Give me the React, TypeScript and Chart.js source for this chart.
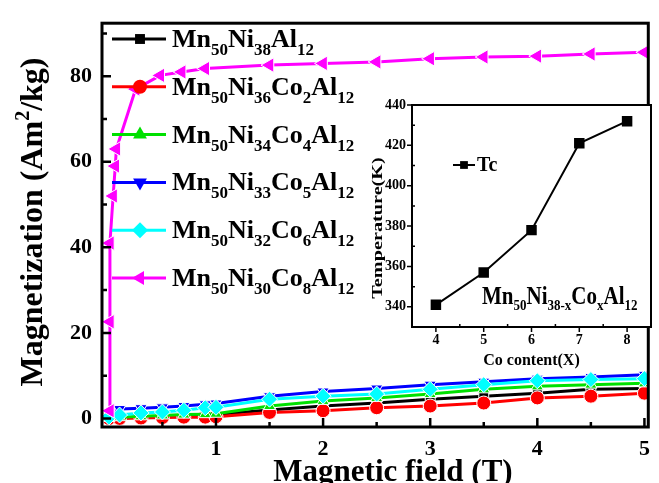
import React, { useEffect, useRef } from "react";
import { Chart, registerables } from "chart.js";
Chart.register(...registerables);

// ---------- data ----------
const FIELD = [0, 0.1, 0.3, 0.5, 0.7, 0.9, 1.0, 1.5, 2, 2.5, 3, 3.5, 4, 4.5, 5];
const M_NI38 = [0, 0.1, 0.3, 0.4, 0.6, 0.8, 0.9, 2.0, 2.9, 3.6, 4.5, 5.2, 5.9, 6.8, 7.0];
const M_CO2 = [0, 0.0, 0.1, 0.2, 0.3, 0.3, 0.4, 1.4, 1.8, 2.5, 2.9, 3.6, 4.8, 5.2, 5.9];
const M_CO4 = [0.1, 0.3, 0.5, 0.7, 0.9, 1.0, 1.1, 2.9, 4.1, 4.8, 5.7, 6.8, 7.5, 7.9, 8.2];
const M_CO5 = [1.2, 2.2, 2.4, 2.6, 2.9, 3.3, 3.5, 5.2, 6.3, 7.0, 7.9, 8.6, 9.3, 9.7, 10.2];
const M_CO6 = [0.3, 0.8, 1.3, 1.5, 1.9, 2.5, 2.6, 4.5, 5.2, 5.7, 6.8, 7.9, 8.8, 9.1, 9.3];
const FIELD_CO8 = [0.01, 0.01, 0.01, 0.04, 0.06, 0.07, 0.25, 0.48, 0.68, 0.9, 1.5, 2, 2.5, 3, 3.5, 4, 4.5, 5];
const M_CO8 = [1.8, 22.6, 41, 52, 59, 63, 77, 80.2, 81, 81.8, 82.6, 83.0, 83.35, 84.1, 84.5, 84.7, 85.2, 85.6];

const SERIES_LABELS = [
  "Mn{50}Ni{38}Al{12}",
  "Mn{50}Ni{36}Co{2}Al{12}",
  "Mn{50}Ni{34}Co{4}Al{12}",
  "Mn{50}Ni{33}Co{5}Al{12}",
  "Mn{50}Ni{32}Co{6}Al{12}",
  "Mn{50}Ni{30}Co{8}Al{12}",
];
const SERIES_COLORS = ["#000000", "#ff0000", "#00e000", "#0000ff", "#00ffff", "#ff00ff"];
const SERIES_MARKERS = ["rect", "circle", "triangle", "triangle", "rectRot", "triangle"];
const SERIES_ROT = [0, 0, 0, 180, 0, -90];

const FIELD_TICKS = [1, 2, 3, 4, 5];
const FIELD_MINOR = [0.5, 1.5, 2.5, 3.5, 4.5];
const MAG_TICKS = [0, 20, 40, 60, 80];
const MAG_MINOR = [10, 30, 50, 70, 90];

const CO_CONTENT = [4, 5, 6, 7, 8];
const TC = [341, 357, 378, 421, 432];
const CO_TICKS = [4, 5, 6, 7, 8];
const CO_MINOR = [4.5, 5.5, 6.5, 7.5];
const TEMP_TICKS = [340, 360, 380, 400, 420, 440];
const TEMP_MINOR = [350, 370, 390, 410, 430];

const FONT = '"Liberation Serif", "Times New Roman", serif';

// ---------- helpers ----------
type Part = { t: string; sub: boolean };
function parseRich(s: string): Part[] {
  const parts: Part[] = [];
  const re = /\{([^}]*)\}|([^{]+)/g;
  let m: RegExpExecArray | null;
  while ((m = re.exec(s))) {
    if (m[1] !== undefined) parts.push({ t: m[1], sub: true });
    else parts.push({ t: m[2], sub: false });
  }
  return parts;
}
function drawRich(ctx: CanvasRenderingContext2D, s: string, x: number, y: number, size: number, subSize: number, subDy: number) {
  let cx = x;
  ctx.textBaseline = "alphabetic";
  ctx.textAlign = "left";
  for (const p of parseRich(s)) {
    ctx.font = `bold ${p.sub ? subSize : size}px ${FONT}`;
    ctx.fillText(p.t, cx, y + (p.sub ? subDy : 0));
    cx += ctx.measureText(p.t).width;
  }
}
function drawMarker(ctx: CanvasRenderingContext2D, style: string, rot: number, x: number, y: number, r: number, color: string) {
  ctx.beginPath();
  ctx.fillStyle = color;
  if (style === "rect") {
    const s = r * Math.SQRT1_2;
    ctx.rect(x - s, y - s, 2 * s, 2 * s);
  } else if (style === "circle") {
    ctx.arc(x, y, r, 0, Math.PI * 2);
  } else if (style === "rectRot") {
    ctx.moveTo(x, y - r);
    ctx.lineTo(x + r, y);
    ctx.lineTo(x, y + r);
    ctx.lineTo(x - r, y);
    ctx.closePath();
  } else {
    let a = (rot * Math.PI) / 180;
    for (let i = 0; i < 3; i++) {
      const px = x + Math.sin(a) * r;
      const py = y - Math.cos(a) * r;
      if (i === 0) ctx.moveTo(px, py);
      else ctx.lineTo(px, py);
      a += (2 * Math.PI) / 3;
    }
    ctx.closePath();
  }
  ctx.fill();
}

// ---------- main chart decorations ----------
const mainDecor = {
  id: "mainDecor",
  afterDraw(chart: any) {
    const { ctx, chartArea: a, scales } = chart;
    const xs = scales.x;
    const ys = scales.y;
    ctx.save();
    ctx.strokeStyle = "#000";
    ctx.lineWidth = 2.5;
    ctx.beginPath();
    for (const v of MAG_TICKS) {
      const py = ys.getPixelForValue(v);
      ctx.moveTo(a.left, py);
      ctx.lineTo(a.left + 9, py);
    }
    for (const v of MAG_MINOR) {
      const py = ys.getPixelForValue(v);
      ctx.moveTo(a.left, py);
      ctx.lineTo(a.left + 5, py);
    }
    for (const v of FIELD_TICKS) {
      const px = xs.getPixelForValue(v);
      ctx.moveTo(px, a.bottom);
      ctx.lineTo(px, a.bottom - 9);
    }
    for (const v of FIELD_MINOR) {
      const px = xs.getPixelForValue(v);
      ctx.moveTo(px, a.bottom);
      ctx.lineTo(px, a.bottom - 5);
    }
    ctx.stroke();
    ctx.lineWidth = 3;
    ctx.strokeRect(a.left, a.top, a.right - a.left, a.bottom - a.top);

    // legend
    for (let i = 0; i < SERIES_LABELS.length; i++) {
      const y = 39 + i * 47.8;
      ctx.strokeStyle = SERIES_COLORS[i];
      ctx.lineWidth = 3;
      ctx.beginPath();
      ctx.moveTo(112, y);
      ctx.lineTo(166, y);
      ctx.stroke();
      const r = SERIES_MARKERS[i] === "rectRot" ? 8 : SERIES_MARKERS[i] === "triangle" ? 8 : 7;
      drawMarker(ctx, SERIES_MARKERS[i], SERIES_ROT[i], 140, y, r, SERIES_COLORS[i]);
      ctx.fillStyle = "#000";
      drawRich(ctx, SERIES_LABELS[i], 172, y + 8, 26, 17, 8);
    }

    // axis titles
    ctx.fillStyle = "#000";
    ctx.font = `bold 31px ${FONT}`;
    ctx.textAlign = "center";
    ctx.textBaseline = "alphabetic";
    ctx.fillText("Magnetic field (T)", 393, 481);

    ctx.save();
    ctx.translate(42, 222);
    ctx.rotate(-Math.PI / 2);
    const p1 = "Magnetization (Am";
    const p2 = "2";
    const p3 = "/kg)";
    ctx.font = `bold 32px ${FONT}`;
    const w1 = ctx.measureText(p1).width;
    const w3 = ctx.measureText(p3).width;
    ctx.font = `bold 20px ${FONT}`;
    const w2 = ctx.measureText(p2).width;
    let cx = -(w1 + w2 + w3) / 2;
    ctx.textAlign = "left";
    ctx.font = `bold 32px ${FONT}`;
    ctx.fillText(p1, cx, 0);
    cx += w1;
    ctx.font = `bold 20px ${FONT}`;
    ctx.fillText(p2, cx, -13);
    cx += w2;
    ctx.font = `bold 32px ${FONT}`;
    ctx.fillText(p3, cx, 0);
    ctx.restore();
    ctx.restore();
  },
};

// ---------- inset decorations ----------
const insetDecor = {
  id: "insetDecor",
  beforeDraw(chart: any) {
    const { ctx, chartArea: a } = chart;
    ctx.save();
    ctx.fillStyle = "#fff";
    ctx.fillRect(a.left, a.top, a.right - a.left, a.bottom - a.top);
    ctx.restore();
  },
  afterDraw(chart: any) {
    const { ctx, chartArea: a, scales } = chart;
    const xs = scales.x;
    const ys = scales.y;
    const ox = 360;
    const oy = 90;
    ctx.save();
    ctx.strokeStyle = "#000";
    ctx.lineWidth = 1.5;
    ctx.beginPath();
    for (const v of TEMP_TICKS) {
      const py = ys.getPixelForValue(v);
      ctx.moveTo(a.left, py);
      ctx.lineTo(a.left - 5, py);
    }
    for (const v of TEMP_MINOR) {
      const py = ys.getPixelForValue(v);
      ctx.moveTo(a.left, py);
      ctx.lineTo(a.left + 3, py);
    }
    for (const v of CO_TICKS) {
      const px = xs.getPixelForValue(v);
      ctx.moveTo(px, a.bottom);
      ctx.lineTo(px, a.bottom + 5);
    }
    for (const v of CO_MINOR) {
      const px = xs.getPixelForValue(v);
      ctx.moveTo(px, a.bottom);
      ctx.lineTo(px, a.bottom - 3);
    }
    ctx.stroke();
    ctx.lineWidth = 2;
    ctx.strokeRect(a.left, a.top, a.right - a.left, a.bottom - a.top);

    // legend Tc
    ctx.lineWidth = 2;
    ctx.beginPath();
    ctx.moveTo(453 - ox, 165 - oy);
    ctx.lineTo(475 - ox, 165 - oy);
    ctx.stroke();
    drawMarker(ctx, "rect", 0, 464 - ox, 165 - oy, 5.5, "#000");
    ctx.fillStyle = "#000";
    ctx.font = `bold 20px ${FONT}`;
    ctx.textAlign = "left";
    ctx.textBaseline = "alphabetic";
    ctx.fillText("Tc", 477 - ox, 171 - oy);

    // formula
    const formula = "Mn{50}Ni{38-x}Co{x}Al{12}";
    ctx.save();
    ctx.translate(482 - ox, 304 - oy);
    ctx.scale(1, 1.15);
    drawRich(ctx, formula, 0, 0, 21, 13, 5);
    ctx.restore();

    // x title
    ctx.font = `bold 16px ${FONT}`;
    ctx.textAlign = "center";
    ctx.fillText("Co content(X)", (a.left + a.right) / 2, 365 - oy);

    // y title
    ctx.save();
    ctx.translate(382 - ox, 228 - oy);
    ctx.rotate(-Math.PI / 2);
    ctx.scale(1.35, 1);
    ctx.font = `bold 15px ${FONT}`;
    ctx.textAlign = "center";
    ctx.fillText("Temperature(K)", 0, 0);
    ctx.restore();
    ctx.restore();
  },
};

export default function App() {
  const mainRef = useRef<HTMLCanvasElement>(null);
  const insetRef = useRef<HTMLCanvasElement>(null);

  useEffect(() => {
    const xyLow = [M_NI38, M_CO2, M_CO4, M_CO5, M_CO6];
    const datasets: any[] = xyLow.map((ys, i) => ({
      label: SERIES_LABELS[i],
      data: FIELD.map((x, j) => ({ x, y: ys[j] })),
      borderColor: SERIES_COLORS[i],
      backgroundColor: SERIES_COLORS[i],
      pointBackgroundColor: SERIES_COLORS[i],
      pointBorderColor: "#ffffff",
      pointBorderWidth: 1,
      borderWidth: 3,
      showLine: true,
      pointStyle: SERIES_MARKERS[i],
      rotation: SERIES_ROT[i],
      pointRadius: SERIES_MARKERS[i] === "rectRot" ? 8 : 7,
      order: 6 - i,
    }));
    datasets.push({
      label: SERIES_LABELS[5],
      data: FIELD_CO8.map((x, j) => ({ x, y: M_CO8[j] })),
      borderColor: SERIES_COLORS[5],
      backgroundColor: SERIES_COLORS[5],
      pointBackgroundColor: SERIES_COLORS[5],
      pointBorderColor: "#ffffff",
      pointBorderWidth: 1,
      borderWidth: 3,
      showLine: true,
      pointStyle: "triangle",
      rotation: -90,
      pointRadius: 8.5,
      order: 1,
    });

    const tickFont = { family: FONT, size: 22, weight: "bold" as const };
    const main = new Chart(mainRef.current!, {
      type: "scatter",
      data: { datasets },
      options: {
        responsive: false,
        animation: false,
        devicePixelRatio: 1,
        layout: { padding: { top: 10, right: 1, left: 0, bottom: 0 } },
        plugins: { legend: { display: false }, tooltip: { enabled: false } },
        scales: {
          x: {
            type: "linear",
            min: -0.064,
            max: 5.036,
            afterBuildTicks: (s: any) => {
              s.ticks = FIELD_TICKS.map((v) => ({ value: v }));
            },
            afterFit: (s: any) => {
              s.height = 56;
            },
            grid: { display: false, drawTicks: false },
            border: { display: false },
            ticks: { font: tickFont, color: "#000", padding: 9, maxRotation: 0, autoSkip: false },
          },
          y: {
            type: "linear",
            min: -2,
            max: 92.4,
            afterBuildTicks: (s: any) => {
              s.ticks = MAG_TICKS.map((v) => ({ value: v }));
            },
            afterFit: (s: any) => {
              s.width = 102;
            },
            grid: { display: false, drawTicks: false },
            border: { display: false },
            ticks: { font: tickFont, color: "#000", padding: 10, autoSkip: false },
          },
        },
      },
      plugins: [mainDecor],
    });

    const insetFont = { family: FONT, size: 14, weight: "bold" as const };
    const inset = new Chart(insetRef.current!, {
      type: "scatter",
      data: {
        datasets: [
          {
            label: "Tc",
            data: CO_CONTENT.map((x, j) => ({ x, y: TC[j] })),
            borderColor: "#000",
            backgroundColor: "#000",
            borderWidth: 2,
            showLine: true,
            pointStyle: "rect",
            pointRadius: 6,
          },
        ],
      },
      options: {
        responsive: false,
        animation: false,
        devicePixelRatio: 1,
        layout: { padding: { top: 15, right: 6, left: 0, bottom: 0 } },
        plugins: { legend: { display: false }, tooltip: { enabled: false } },
        scales: {
          x: {
            type: "linear",
            min: 3.5,
            max: 8.5,
            afterBuildTicks: (s: any) => {
              s.ticks = CO_TICKS.map((v) => ({ value: v }));
            },
            afterFit: (s: any) => {
              s.height = 53;
            },
            grid: { display: false, drawTicks: false },
            border: { display: false },
            ticks: { font: insetFont, color: "#000", padding: 5, maxRotation: 0, autoSkip: false },
          },
          y: {
            type: "linear",
            min: 330,
            max: 440,
            afterBuildTicks: (s: any) => {
              s.ticks = TEMP_TICKS.map((v) => ({ value: v }));
            },
            afterFit: (s: any) => {
              s.width = 52;
            },
            grid: { display: false, drawTicks: false },
            border: { display: false },
            ticks: { font: insetFont, color: "#000", padding: 6, autoSkip: false },
          },
        },
      },
      plugins: [insetDecor],
    });

    return () => {
      main.destroy();
      inset.destroy();
    };
  }, []);

  return (
    <div style={{ position: "absolute", left: 0, top: 0, width: 659, height: 483, background: "#fff" }}>
      <canvas ref={mainRef} width={659} height={483} style={{ position: "absolute", left: 0, top: 0 }} />
      <canvas ref={insetRef} width={299} height={290} style={{ position: "absolute", left: 360, top: 90 }} />
    </div>
  );
}
